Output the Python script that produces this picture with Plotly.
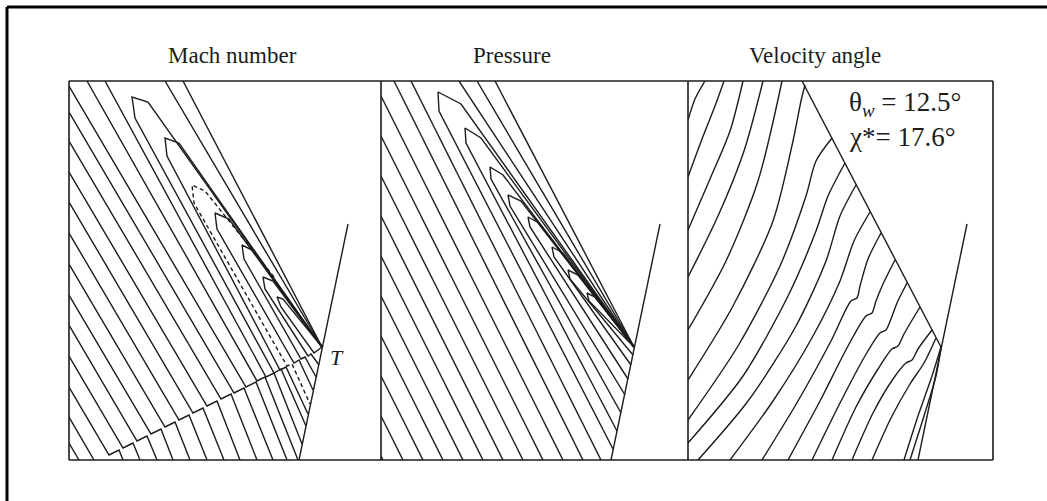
import plotly.graph_objects as go

# ---------------- data (panel-local units: x right, y down from panel top) ----------------
panel_titles = ["Mach number", "Pressure", "Velocity angle"]

shock_x = [114, 253]
shock_y = [0, 266]
wedge_x = [230, 279]
wedge_y = [379, 143]

# Mach number contours
mach_lines = [
    [(0, 362), (10, 379)],
    [(0, 336), (25, 379)],
    [(0, 306), (40, 374), (50, 369), (54, 379)],
    [(0, 275), (54, 367), (64, 362), (71, 379)],
    [(0, 244), (68, 360), (78, 355), (88, 379)],
    [(0, 214), (82, 353), (92, 348), (104, 379)],
    [(0, 183), (96, 346), (106, 341), (121, 379)],
    [(0, 152), (110, 339), (120, 334), (138, 379)],
    [(0, 121), (124, 332), (134, 327), (155, 379)],
    [(0, 91), (138, 325), (148, 320), (171, 379)],
    [(0, 60), (152, 318), (162, 313), (188, 379)],
    [(0, 31), (165, 312), (175, 307), (204, 379)],
    [(0, 5), (177, 306), (187, 301), (218, 379)],
    [(18, 0), (188, 300), (196, 296), (229, 379)],
    [(36, 0), (197, 296), (205, 292), (233, 363)],
    [(96, 0), (253, 266)],
    [(253, 266), (79, 21), (63, 16), (66, 37), (205, 292), (212, 288), (237, 345)],
    [(253, 266), (110, 62), (96, 57), (98, 75), (211, 289), (217, 286), (239, 333)],
    [(253, 266), (160, 138), (146, 132), (148, 148), (225, 282), (230, 279), (244, 309)],
    [(253, 266), (185, 170), (173, 164), (175, 178), (232, 278), (236, 276), (247, 296)],
    [(253, 266), (204, 200), (194, 196), (196, 208), (239, 275), (242, 273), (250, 284)],
    [(253, 266), (214, 218), (208, 216), (212, 226), (245, 272), (253, 266)],
]
mach_dashed = [[(205, 196), (136, 110), (123, 104), (125, 122), (218, 285), (223, 283), (241, 323)]]

# Pressure contours
pressure_lines = [
    [(0, 375), (2, 379)],
    [(0, 335), (22, 379)],
    [(0, 295), (42, 379)],
    [(0, 255), (62, 379)],
    [(0, 215), (82, 379)],
    [(0, 175), (102, 379)],
    [(0, 135), (122, 379)],
    [(0, 95), (142, 379)],
    [(0, 55), (162, 379)],
    [(0, 15), (182, 379)],
    [(13, 0), (202, 379)],
    [(30, 0), (220, 379)],
    [(78, 0), (253, 266)],
    [(96, 0), (253, 266)],
    [(253, 266), (80, 23), (57, 11), (58, 30), (232, 368)],
    [(253, 266), (100, 57), (84, 47), (85, 62), (236, 350)],
    [(253, 266), (122, 94), (109, 86), (110, 98), (240, 332)],
    [(253, 266), (140, 120), (127, 114), (129, 125), (244, 314)],
    [(253, 266), (158, 142), (147, 136), (149, 146), (247, 298)],
    [(253, 266), (182, 172), (171, 166), (173, 176), (250, 284)],
    [(253, 266), (197, 194), (187, 189), (189, 198), (252, 274)],
    [(253, 266), (214, 216), (206, 212), (208, 220), (253, 266)],
]

# Velocity angle contours
angle_lines = [
    [(0, 39), (7, 18), (17, 0)],
    [(0, 96), (14, 58), (27, 25), (36, 0)],
    [(0, 149), (22, 98), (42, 50), (55, 0)],
    [(0, 196), (30, 135), (56, 70), (75, 0)],
    [(0, 249), (38, 180), (70, 100), (94, 0)],
    [(0, 299), (45, 225), (85, 140), (105, 60), (113, 20), (117, 4)],
    [(0, 339), (50, 265), (92, 185), (118, 115), (128, 80), (144, 57)],
    [(0, 362), (55, 295), (100, 215), (128, 150), (140, 115), (157, 82)],
    [(10, 379), (60, 320), (108, 245), (138, 180), (152, 135), (168, 104)],
    [(42, 379), (85, 320), (125, 255), (152, 200), (166, 160), (182, 131)],
    [(74, 379), (110, 320), (143, 260), (163, 220), (169, 217), (172, 205), (180, 178), (193, 152)],
    [(100, 379), (132, 320), (160, 265), (178, 235), (184, 232), (188, 220), (195, 203), (207, 179)],
    [(124, 379), (152, 322), (177, 275), (192, 252), (198, 249), (203, 238), (209, 222), (219, 202)],
    [(144, 379), (168, 326), (190, 288), (204, 268), (210, 265), (216, 253), (232, 226)],
    [(164, 379), (185, 332), (205, 298), (218, 282), (224, 279), (230, 268), (244, 249)],
    [(184, 379), (203, 337), (222, 303), (236, 282), (248, 257)],
    [(216, 379), (230, 335), (244, 295), (253, 266)],
    [(222, 379), (236, 335), (248, 295), (253, 267)],
]

annot_T = "<i>T</i>"
angle_labels = ["θ<sub><i>w</i></sub> = 12.5°", "χ*= 17.6°"]

# ---------------- layout constants ----------------
W, H = 1047, 501
px_left = [69, 381, 688]
px_right = [381, 688, 993]
px_top, px_bot = 81, 460
title_cx = [232, 512, 815]
title_cy = 55
INK = "#1c1c1c"
SERIF = "Liberation Serif, Times New Roman, serif"

fig = go.Figure()


def add_polylines(lines, ax, dash="solid", shape="linear"):
    for pts in lines:
        fig.add_trace(go.Scatter(
            x=[p[0] for p in pts], y=[p[1] for p in pts],
            mode="lines", xaxis=ax[0], yaxis=ax[1], hoverinfo="skip",
            line=dict(color=INK, width=1.4, dash=dash, shape=shape,
                      smoothing=0.8 if shape == "spline" else None),
            showlegend=False))


axes = [("x", "y"), ("x2", "y2"), ("x3", "y3")]
for ax in axes:
    add_polylines([list(zip(shock_x, shock_y)), list(zip(wedge_x, wedge_y))], ax)

add_polylines(mach_lines, axes[0])
add_polylines(mach_dashed, axes[0], dash="4px,3px")
add_polylines(pressure_lines, axes[1])
add_polylines(angle_lines, axes[2], shape="spline")

layout = dict(width=W, height=H, margin=dict(l=0, r=0, t=0, b=0),
              paper_bgcolor="white", plot_bgcolor="white", showlegend=False)
ydom = [1 - px_bot / H, 1 - px_top / H]
for i in range(3):
    sfx = "" if i == 0 else str(i + 1)
    wpx = px_right[i] - px_left[i]
    layout["xaxis" + sfx] = dict(domain=[px_left[i] / W, px_right[i] / W], range=[0, wpx],
                                 showgrid=False, zeroline=False, showticklabels=False, ticks="",
                                 showline=False, anchor="y" + sfx, fixedrange=True)
    layout["yaxis" + sfx] = dict(domain=ydom, range=[px_bot - px_top, 0],
                                 showgrid=False, zeroline=False, showticklabels=False, ticks="",
                                 showline=False, anchor="x" + sfx, fixedrange=True)
fig.update_layout(**layout)

for i, t in enumerate(panel_titles):
    fig.add_annotation(x=title_cx[i] / W, y=1 - title_cy / H, xref="paper", yref="paper",
                       text=t, showarrow=False, font=dict(family=SERIF, size=23, color=INK),
                       xanchor="center", yanchor="middle")

fig.add_annotation(x=268, y=276, xref="x", yref="y", text=annot_T, showarrow=False,
                   font=dict(family=SERIF, size=22, color=INK))
for j, lab in enumerate(angle_labels):
    fig.add_annotation(x=159, y=23 + 33 * j, xref="x3", yref="y3", text=lab, showarrow=False,
                       xanchor="left", yanchor="middle",
                       font=dict(family=SERIF, size=27, color=INK))


def pline(x0, y0, x1, y1, w, color=INK):
    fig.add_shape(type="line", xref="paper", yref="paper",
                  x0=x0 / W, x1=x1 / W, y0=1 - y0 / H, y1=1 - y1 / H,
                  line=dict(color=color, width=w))


# panel frame and dividers
pline(px_left[0], px_top, px_right[2], px_top, 1.6)
pline(px_left[0], px_bot, px_right[2], px_bot, 1.6)
pline(px_left[0], px_top, px_left[0], px_bot, 1.6)
pline(px_right[2], px_top, px_right[2], px_bot, 1.6)
pline(px_left[1], px_top, px_left[1], px_bot, 1.6)
pline(px_left[2], px_top, px_left[2], px_bot, 1.6)

# outer page border (top and left edges of the scanned frame)
pline(7, 7, W, 7, 3, "black")
pline(7, 7, 7, H, 3, "black")

fig.write_html("out.html")
